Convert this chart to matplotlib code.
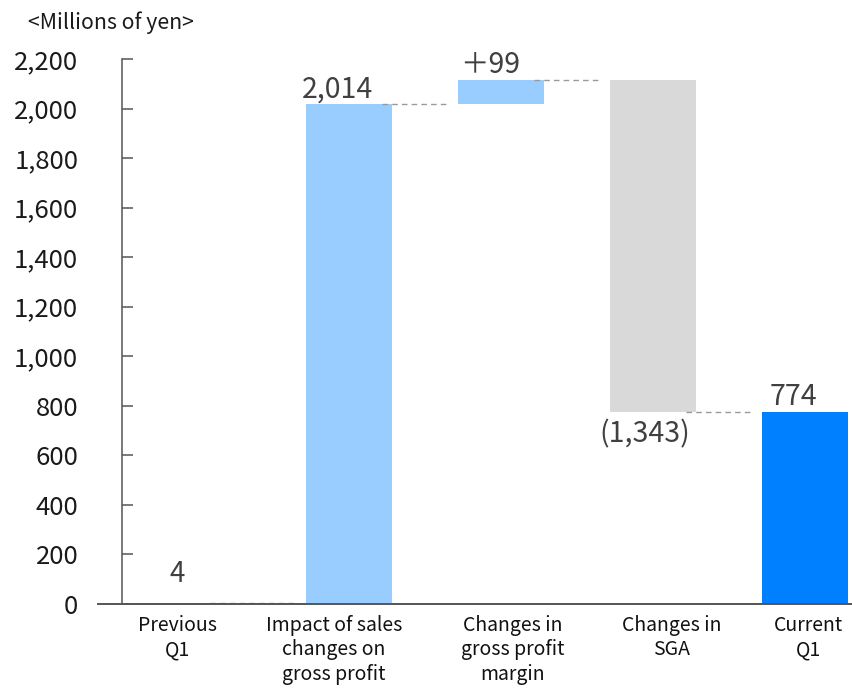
import matplotlib
matplotlib.use('Agg')
import matplotlib.pyplot as plt

plt.rcParams['font.family'] = ['Noto Sans CJK JP', 'DejaVu Sans']
plt.rcParams['font.weight'] = 'normal'

# ---- data ----
categories = ["Previous\nQ1",
              "Impact of sales\nchanges on\ngross profit",
              "Changes in\ngross profit\nmargin",
              "Changes in\nSGA",
              "Current\nQ1"]
changes = [4, 2014, 99, -1343, 774]
kinds = ["total", "delta", "delta", "delta", "total"]
value_labels = ["4", "2,014", "＋99", "(1,343)", "774"]
yticks = [0, 200, 400, 600, 800, 1000, 1200, 1400, 1600, 1800, 2000, 2200]
ytick_labels = ["0", "200", "400", "600", "800", "1,000", "1,200", "1,400",
                "1,600", "1,800", "2,000", "2,200"]
unit_label = "<Millions of yen>"

# ---- layout / style ----
bar_pos = [-0.13, 1, 2, 3, 4]
label_pos = [-0.13, 0.90, 2.076, 3.125, 4.02]
colors = ["#0080FF", "#99CCFF", "#99CCFF", "#D9D9D9", "#0080FF"]
width = 0.56

W, H = 853, 688
fig = plt.figure(figsize=(W / 100, H / 100), dpi=100)
ax = fig.add_axes([98 / W, (H - 604) / H, (W - 98) / W, (604 - 59) / H])

# compute waterfall bottoms / tops
bottoms, heights, levels = [], [], []
running = 0
for ch, kind in zip(changes, kinds):
    if kind == "total":
        b, h = 0, ch
        running = ch
    else:
        if ch >= 0:
            b, h = running, ch
        else:
            b, h = running + ch, -ch
        running += ch
    bottoms.append(b)
    heights.append(h)
    levels.append(running)

ax.bar(bar_pos, heights, bottom=bottoms, width=width, color=colors,
       edgecolor='none', zorder=2)

# connectors
for i in range(len(bar_pos) - 1):
    x0 = bar_pos[i] + width / 2 - 0.065
    x1 = bar_pos[i + 1] - width / 2 - 0.06
    ax.plot([x0, x1], [levels[i], levels[i]], color="#9a9a9a", lw=1.0,
            ls=(0, (4, 3)), zorder=3, solid_capstyle='butt')

# value labels
for i, (lab, ch, kind) in enumerate(zip(value_labels, changes, kinds)):
    if i == 0:
        ax.annotate(lab, (bar_pos[i], bottoms[i] + heights[i]),
                    xytext=(0, 15), textcoords='offset points',
                    ha='center', va='baseline', fontsize=20, color='#404040')
    elif ch >= 0:
        ax.annotate(lab, (bar_pos[i], bottoms[i] + heights[i]),
                    xytext=(-8, 5), textcoords='offset points',
                    ha='center', va='baseline', fontsize=20.5, color='#404040')
    else:
        ax.annotate(lab, (bar_pos[i], bottoms[i]),
                    xytext=(-6, -22), textcoords='offset points',
                    ha='center', va='baseline', fontsize=20.5, color='#404040')

ax.set_xlim(-0.651, 4.316)
ax.set_ylim(0, 2200)

for s in ['top', 'right']:
    ax.spines[s].set_visible(False)
ax.spines['left'].set_position(('data', -0.493))
ax.spines['left'].set_color('#555555')
ax.spines['left'].set_linewidth(1.1)
ax.spines['bottom'].set_color('#555555')
ax.spines['bottom'].set_linewidth(1.4)
ax.spines['bottom'].set_zorder(4)

ax.set_yticks(yticks, ytick_labels)
ax.tick_params(axis='y', direction='in', length=8, width=1.1, color='#555555',
               pad=31.5, labelsize=18.5, labelcolor='#1a1a1a')
ax.set_xticks(label_pos, categories)
ax.tick_params(axis='x', length=0, pad=8, labelsize=14, labelcolor='#111111')
for t in ax.get_xticklabels():
    t.set_linespacing(1.2)

fig.text(28 / W, 1 - 29 / H, unit_label, fontsize=15.3, color='#1a1a1a',
         ha='left', va='baseline')

fig.savefig('out.png', dpi=100)
